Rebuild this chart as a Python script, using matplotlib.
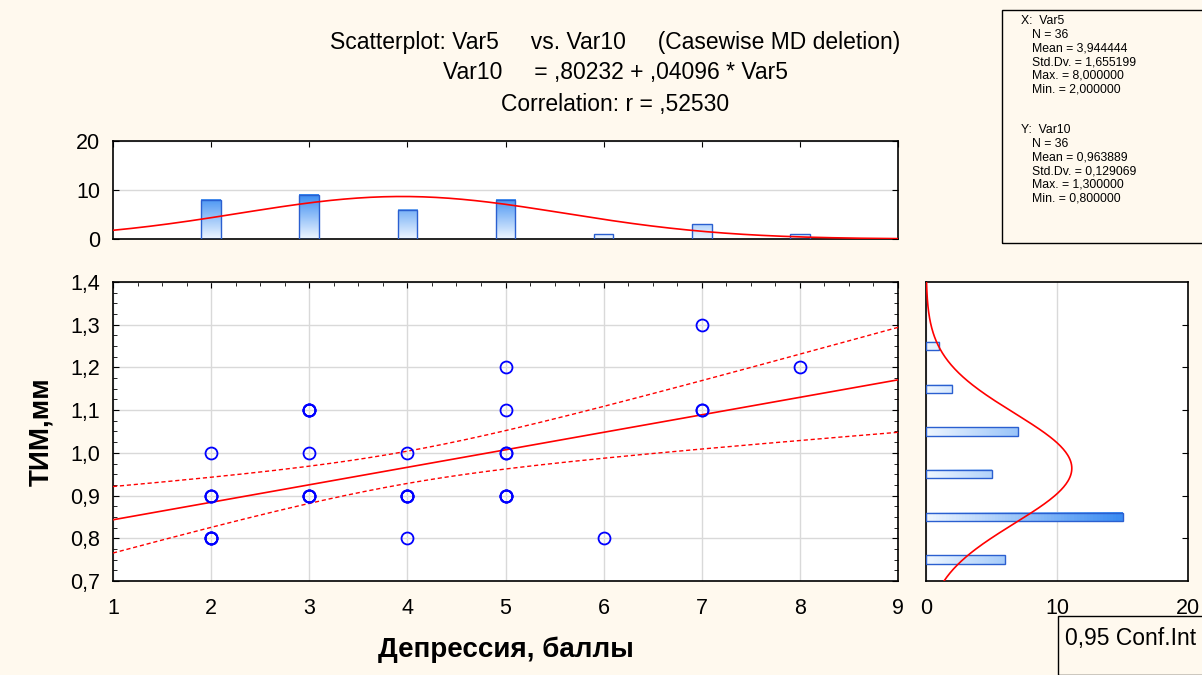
import numpy as np
import matplotlib
matplotlib.use("Agg")
import matplotlib.pyplot as plt
from matplotlib.colors import LinearSegmentedColormap
from matplotlib.patches import Rectangle
from matplotlib.ticker import FuncFormatter, MultipleLocator

plt.rcParams["font.family"] = ["Liberation Sans", "DejaVu Sans"]

# -----------------------
# DATA (Var5 = depression score, Var10 = TIM, mm), 36 cases
# -----------------------
x_vals = [2, 3, 4, 5, 6, 7, 8]
# y values observed at each x value
y_at_x = {
    2: [1.0, 0.9, 0.9, 0.9, 0.8, 0.8, 0.8, 0.8],
    3: [1.1, 1.1, 1.1, 1.1, 1.0, 0.9, 0.9, 0.9, 0.9],
    4: [1.0, 0.9, 0.9, 0.9, 0.9, 0.8],
    5: [1.2, 1.1, 1.0, 1.0, 0.9, 0.9, 0.9, 0.9],
    6: [0.8],
    7: [1.3, 1.1, 1.1],
    8: [1.2],
}

x = np.array([xv for xv in x_vals for _ in y_at_x[xv]], dtype=float)
y = np.array([yv for xv in x_vals for yv in y_at_x[xv]], dtype=float)
n = len(x)

title_lines = [
    "Scatterplot: Var5     vs. Var10     (Casewise MD deletion)",
    "Var10     = ,80232 + ,04096 * Var5",
    "Correlation: r = ,52530",
]
stats_x = ["X:  Var5", "N = 36", "Mean = 3,944444", "Std.Dv. = 1,655199",
           "Max. = 8,000000", "Min. = 2,000000"]
stats_y = ["Y:  Var10", "N = 36", "Mean = 0,963889", "Std.Dv. = 0,129069",
           "Max. = 1,300000", "Min. = 0,800000"]

# -----------------------
# FIT + CONFIDENCE BAND
# -----------------------
slope, icpt = np.polyfit(x, y, 1)
resid = y - (icpt + slope * x)
s = np.sqrt(np.sum(resid ** 2) / (n - 2))
sxx = np.sum((x - x.mean()) ** 2)
t_crit = 2.032  # t(0.975, df=34)
xf = np.linspace(1, 9, 200)
yf = icpt + slope * xf
half = t_crit * s * np.sqrt(1 / n + (xf - x.mean()) ** 2 / sxx)

# -----------------------
# FIGURE
# -----------------------
BG = "#fff9ee"
BAR_EDGE = "#2a5fd0"
GRID = "#d9d9d9"
TICK_FS = 15.5
cmap = LinearSegmentedColormap.from_list("bars", ["#eef6ff", "#3a8cf2"])

fig = plt.figure(figsize=(12.02, 6.75), dpi=100, facecolor=BG)

ax = fig.add_axes([0.0940, 0.1393, 0.6531, 0.4429])
ax_top = fig.add_axes([0.0940, 0.6459, 0.6531, 0.1452])
ax_rt = fig.add_axes([0.7704, 0.1393, 0.2180, 0.4429])

for a in (ax, ax_top, ax_rt):
    for sp in a.spines.values():
        sp.set_linewidth(1.2)
        sp.set_color("black")

# main scatter
ax.plot(xf, yf, color="red", lw=1.2, zorder=3)
ax.plot(xf, yf + half, color="red", lw=1.0, ls=(0, (3, 2)), zorder=3)
ax.plot(xf, yf - half, color="red", lw=1.0, ls=(0, (3, 2)), zorder=3)
ax.plot(x, y, "o", mfc="none", mec="#0000ff", ms=8.6, mew=1.3, zorder=4)
ax.set_xlim(1, 9)
ax.set_ylim(0.7, 1.4)
ax.xaxis.set_major_locator(MultipleLocator(1))
ax.xaxis.set_minor_locator(MultipleLocator(0.25))
ax.yaxis.set_major_locator(MultipleLocator(0.1))
ax.yaxis.set_minor_locator(MultipleLocator(0.025))
ax.yaxis.set_major_formatter(FuncFormatter(lambda v, p: f"{v:.1f}".replace(".", ",")))
ax.grid(True, which="major", color=GRID, lw=1.0, zorder=0)
ax.tick_params(which="both", direction="in", top=True, right=True, bottom=False,
               labelsize=TICK_FS)
ax.tick_params(axis="x", pad=12)
ax.tick_params(axis="y", pad=9)
ax.tick_params(which="major", length=4)
ax.tick_params(which="minor", length=3)
ax.set_xlabel("Депрессия, баллы", fontsize=20, fontweight="bold", labelpad=13)
ax.set_ylabel("ТИМ,мм", fontsize=20, fontweight="bold", labelpad=12)

# top histogram of Var5
x_cnt = np.array([len(y_at_x[xv]) for xv in x_vals])
bw = 0.2
for xc, c in zip(x_vals, x_cnt):
    grad = np.linspace(0, c, 60).reshape(-1, 1)
    ax_top.imshow(grad, extent=[xc - bw / 2, xc + bw / 2, 0, c], origin="lower",
                  cmap=cmap, vmin=0, vmax=x_cnt.max(), aspect="auto", zorder=2)
    ax_top.add_patch(Rectangle((xc - bw / 2, 0), bw, c, fill=False,
                               ec=BAR_EDGE, lw=1.0, zorder=3))
xn = np.linspace(1, 9, 300)
ax_top.plot(xn, n * 1.0 * np.exp(-0.5 * ((xn - x.mean()) / x.std(ddof=1)) ** 2)
            / (x.std(ddof=1) * np.sqrt(2 * np.pi)), color="red", lw=1.2, zorder=4)
ax_top.set_xlim(1, 9)
ax_top.set_ylim(0, 20)
ax_top.set_yticks([0, 10, 20])
ax_top.set_xticks(range(1, 10))
ax_top.grid(True, axis="y", color=GRID, lw=1.0, zorder=0)
ax_top.tick_params(direction="in", top=True, right=True, bottom=False, length=4,
                   labelbottom=False, labelsize=TICK_FS, pad=9)

# right histogram of Var10
y_levels = np.array(sorted(set(y)))
y_cnt = np.array([np.sum(np.isclose(y, yv)) for yv in y_levels])
bh = 0.02
for yc, c in zip(y_levels - 0.05, y_cnt):
    grad = np.linspace(0, c, 60).reshape(1, -1)
    ax_rt.imshow(grad, extent=[0, c, yc - bh / 2, yc + bh / 2], origin="lower",
                 cmap=cmap, vmin=0, vmax=y_cnt.max(), aspect="auto", zorder=2)
    ax_rt.add_patch(Rectangle((0, yc - bh / 2), c, bh, fill=False,
                              ec=BAR_EDGE, lw=1.0, zorder=3))
yn = np.linspace(0.7, 1.4, 300)
ax_rt.plot(n * 0.1 * np.exp(-0.5 * ((yn - y.mean()) / y.std(ddof=1)) ** 2)
           / (y.std(ddof=1) * np.sqrt(2 * np.pi)), yn, color="red", lw=1.2, zorder=4)
ax_rt.set_xlim(0, 20)
ax_rt.set_ylim(0.7, 1.4)
ax_rt.set_xticks([0, 10, 20])
ax_rt.set_yticks(np.arange(0.8, 1.35, 0.1))
ax_rt.grid(True, axis="x", color=GRID, lw=1.0, zorder=0)
ax_rt.tick_params(axis="y", direction="in", left=False, right=True, length=4,
                  labelleft=False)
ax_rt.tick_params(axis="x", direction="in", bottom=False, labelsize=TICK_FS, pad=12)

# titles
for i, line in enumerate(title_lines):
    fig.text(0.512, 1 - (42 + i * 31) / 675, line, ha="center", va="center",
             fontsize=16.5)

# stats box
fig.patches.append(Rectangle((1002 / 1202, 1 - 243 / 675), 0.2, 233 / 675,
                             transform=fig.transFigure, fill=False, ec="black",
                             lw=1.0))
for i, line in enumerate(stats_x):
    fig.text((1021 if i == 0 else 1032) / 1202, 1 - (21 + i * 13.7) / 675, line,
             ha="left", va="center", fontsize=8.8)
for i, line in enumerate(stats_y):
    fig.text((1021 if i == 0 else 1032) / 1202, 1 - (130 + i * 13.7) / 675, line,
             ha="left", va="center", fontsize=8.8)

# conf. int legend box (cut by the figure edge)
fig.patches.append(Rectangle((1058 / 1202, 0), 0.2, 59 / 675,
                             transform=fig.transFigure, fill=False, ec="black",
                             lw=1.0))
fig.text(1065 / 1202, 1 - 638 / 675, "0,95 Conf.Int", ha="left", va="center",
         fontsize=16.5)

fig.savefig("out.png", dpi=100, facecolor=BG)
